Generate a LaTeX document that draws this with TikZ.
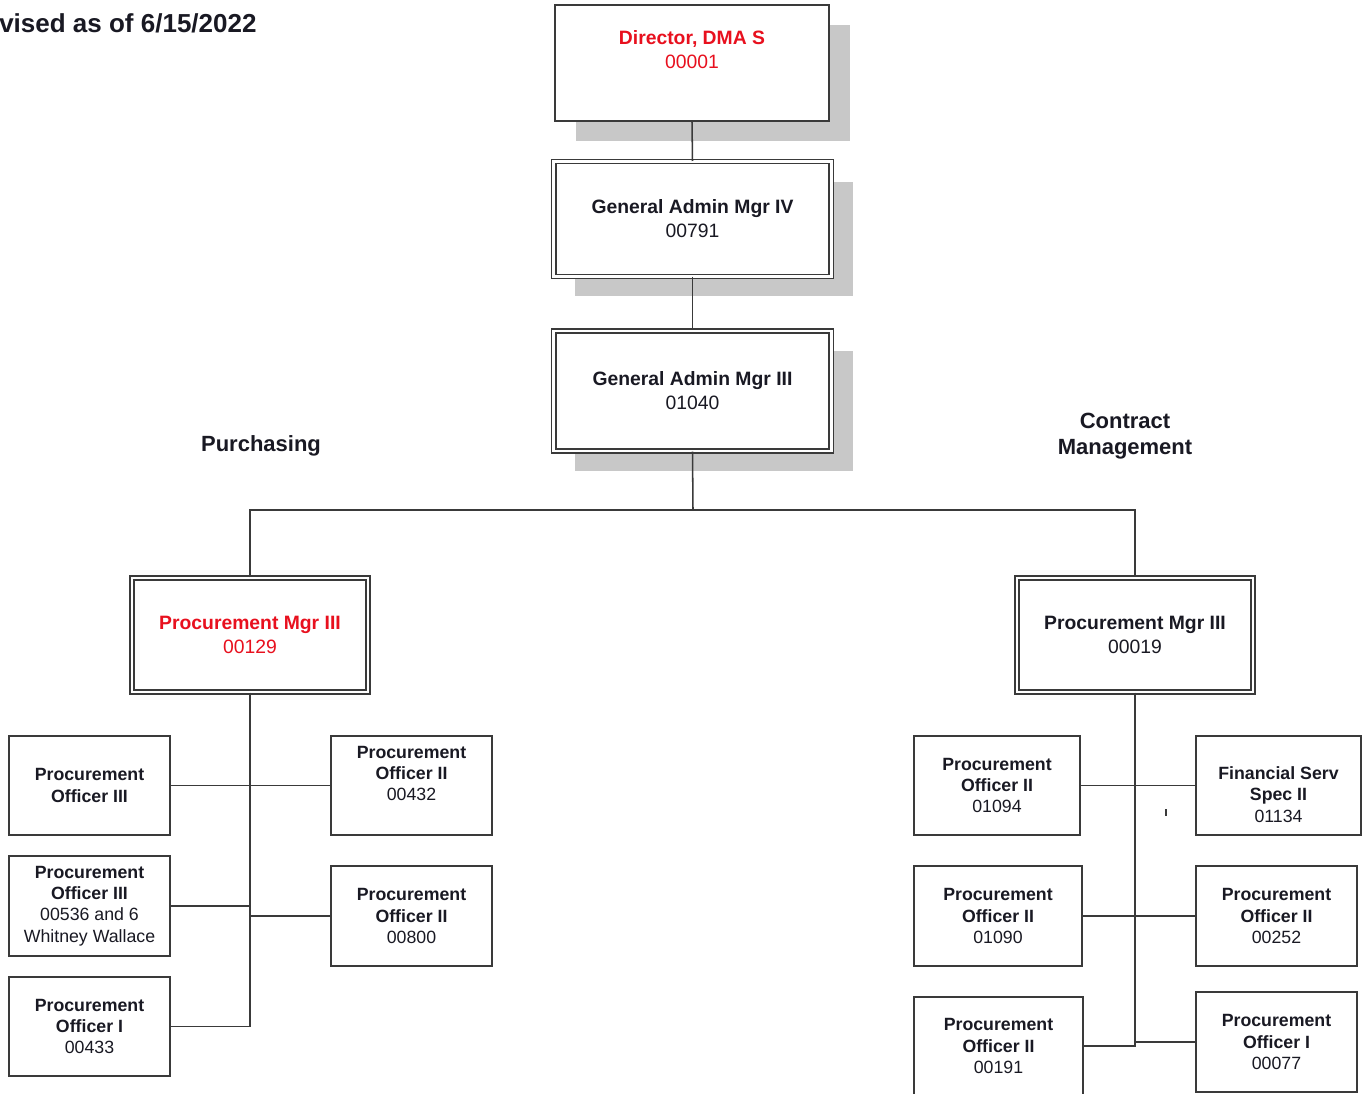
\documentclass[tikz,border=0pt]{standalone}
\usepackage{fontspec}
\setmainfont{Liberation Sans}
\usetikzlibrary{shadows}
\definecolor{ored}{RGB}{232,16,30}
\definecolor{edge}{RGB}{58,58,58}
\definecolor{shade}{RGB}{200,200,200}
\definecolor{ink}{RGB}{25,25,35}
\begin{document}
\begin{tikzpicture}[x=0.75pt,y=-0.75pt,
 box/.style={draw=edge, line width=1.15pt, fill=white, inner sep=0pt, align=center,
   font=\fontsize{13.3}{16.1}\selectfont, text=ink},
 cbox/.style={box, minimum width=120.75pt, minimum height=74.25pt},
 dbox/.style={draw=edge, line width=1pt, double=white, double distance=2.2pt, fill=white,
   inner sep=0pt, align=center, font=\fontsize{14.5}{18}\selectfont, text=ink},
 shad/.style={drop shadow={shadow xshift=16pt, shadow yshift=-15pt, fill=shade, opacity=1}},
 wire/.style={draw=edge, line width=1.15pt},
 head/.style={font=\bfseries\fontsize{16.5}{20}\selectfont, text=ink, align=center}
]
\useasboundingbox[fill=white] (0,0) rectangle (1367,1094);

% title
\node[anchor=west, font=\bfseries\fontsize{19.5}{22}\selectfont, text=ink, inner sep=0pt] (title) at (-1,23) {vised as of 6/15/2022};

% section headings
\node[head] (purch) at (261,446) {Purchasing};
\node[head] (contr) at (1125,436) {Contract\\Management};

% top chain
\node[box, shad, minimum width=205.5pt, minimum height=87pt,
  label={[name=dirt, align=center, yshift=9.75pt, text=ored, font=\fontsize{14.5}{18}\selectfont]center:{\textbf{Director, DMA S}\\00001}}]
  (dir) at (692,63) {};
\node[dbox, shad, minimum width=208pt, minimum height=86pt] (ga4) at (692.5,219) {\textbf{General Admin Mgr IV}\\00791};
\node[dbox, shad, minimum width=208pt, minimum height=90pt] (ga3) at (692.5,391) {\textbf{General Admin Mgr III}\\01040};

% managers
\node[dbox, minimum width=177pt, minimum height=85.5pt, text=ored] (pmL) at (250,635) {\textbf{Procurement Mgr III}\\00129};
\node[dbox, minimum width=177pt, minimum height=85.5pt] (pmR) at (1135,635) {\textbf{Procurement Mgr III}\\00019};

% left children
\node[cbox] (l1) at (89.5,785.5) {\textbf{Procurement}\\\textbf{Officer III}};
\node[cbox, label={[name=l2t, align=center, yshift=9pt, text=ink, font=\fontsize{13.3}{16.1}\selectfont]center:{\textbf{Procurement}\\\textbf{Officer II}\\00432}}] (l2) at (411.5,785.5) {};
\node[cbox, minimum height=75pt] (l3) at (89.5,906) {\textbf{Procurement}\\\textbf{Officer III}\\00536 and 6\\Whitney Wallace};
\node[cbox, minimum height=75pt] (l4) at (411.5,916) {\textbf{Procurement}\\\textbf{Officer II}\\00800};
\node[cbox] (l5) at (89.5,1026.5) {\textbf{Procurement}\\\textbf{Officer I}\\00433};

% right children
\node[cbox, minimum width=124.5pt] (r1) at (997,785.5) {\textbf{Procurement}\\\textbf{Officer II}\\01094};
\node[cbox, minimum width=123.75pt, label={[name=r2t, align=center, yshift=-6.75pt, text=ink, font=\fontsize{13.3}{16.1}\selectfont]center:{\textbf{Financial Serv}\\\textbf{Spec II}\\01134}}] (r2) at (1278.5,785.5) {};
\node[cbox, minimum width=126pt, minimum height=75pt] (r3) at (998,916) {\textbf{Procurement}\\\textbf{Officer II}\\01090};
\node[cbox, minimum height=75pt] (r4) at (1276.5,916) {\textbf{Procurement}\\\textbf{Officer II}\\00252};
\node[cbox, minimum width=126.75pt, minimum height=73.5pt] (r5) at (998.5,1046) {\textbf{Procurement}\\\textbf{Officer II}\\00191};
\node[cbox, minimum height=75pt] (r6) at (1276.5,1042) {\textbf{Procurement}\\\textbf{Officer I}\\00077};

% connectors
\coordinate (bus) at (693,510);
\draw[wire] (dir.south) -- (ga4.north);
\draw[wire] (ga4.south) -- (ga3.north);
\draw[wire] (ga3.south) -- (bus);
\draw[wire] (pmL.north) |- (bus) -| (pmR.north);

\draw[wire] (pmL.south) |- (l5.east);
\draw[wire] (l1.east) -- (l1.east -| pmL.south);
\draw[wire] (l2.west) -- (l2.west -| pmL.south);
\draw[wire] (l3.east) -- (l3.east -| pmL.south);
\draw[wire] (l4.west) -- (l4.west -| pmL.south);

\draw[wire] (pmR.south) |- (r5.east);
\draw[wire] (r1.east) -- (r2.west);
\draw[wire] (r3.east) -- (r4.west);
\draw[wire] (r6.west) -- (r6.west -| pmR.south);

% stray tick
\draw[edge, line width=0.8pt] (1166,809) -- (1166,816);
\end{tikzpicture}
\end{document}
